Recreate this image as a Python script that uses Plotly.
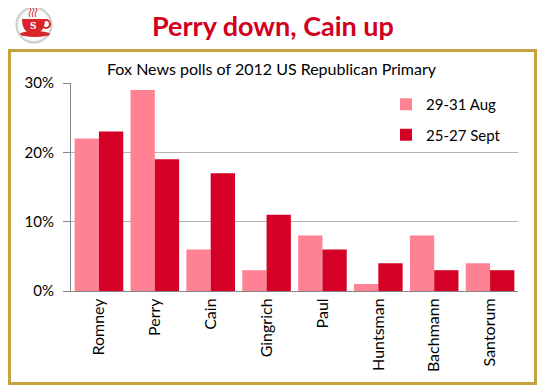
import plotly.graph_objects as go

candidates = ["Romney", "Perry", "Cain", "Gingrich", "Paul", "Huntsman", "Bachmann", "Santorum"]
aug_values = [0.22, 0.29, 0.06, 0.03, 0.08, 0.01, 0.08, 0.04]
sept_values = [0.23, 0.19, 0.17, 0.11, 0.06, 0.04, 0.03, 0.03]
series_names = ["29-31 Aug", "25-27 Sept"]
y_ticks = [0, 0.1, 0.2, 0.3]
y_tick_labels = ["0%", "10%", "20%", "30%"]

OFF = 8  # page body margin offset
W, H = 546 - OFF, 391 - OFF
# plot area in reference (window) pixels
L, R, T, B = 71, 518, 83, 291


def px(x):
    return (x - L) / (R - L)


def py(y):
    return (B - y) / (B - T)


FONT = "Lato, 'Open Sans', sans-serif"
PINK = "#FF8294"
RED = "#D50025"
CUP = "#D9262B"

fig = go.Figure()
fig.add_trace(go.Bar(x=candidates, y=aug_values, name=series_names[0],
                     marker=dict(color=PINK, line=dict(width=0)),
                     legendgroup="a"))
fig.add_trace(go.Bar(x=candidates, y=sept_values, name=series_names[1],
                     marker=dict(color=RED, line=dict(width=0)),
                     legendgroup="b"))


def P(x, y):
    return f"{px(x):.5f},{py(y):.5f}"


shapes = []
# outer golden border
shapes.append(dict(type="rect", xref="paper", yref="paper",
                   x0=px(9.5), x1=px(535.5), y0=py(383.5), y1=py(50.5),
                   line=dict(color="#C3A23F", width=3), layer="below"))
# logo
cx, cy = 34, 25
shapes.append(dict(type="circle", xref="paper", yref="paper",
                   x0=px(cx - 18), x1=px(cx + 18), y0=py(cy + 18), y1=py(cy - 18),
                   fillcolor="#DADADA", line=dict(color="#C4C4C4", width=1)))
shapes.append(dict(type="circle", xref="paper", yref="paper",
                   x0=px(cx - 16), x1=px(cx + 16), y0=py(cy + 16), y1=py(cy - 16),
                   fillcolor="#FBFBFB", line=dict(width=0)))
# saucer
shapes.append(dict(type="circle", xref="paper", yref="paper",
                   x0=px(20), x1=px(50), y0=py(37), y1=py(31),
                   fillcolor=CUP, line=dict(width=0)))
# cup bowl
bowl = (f"M {P(22,19)} L {P(45,19)} Q {P(45,33)} {P(33.5,34)} "
        f"Q {P(22,33)} {P(22,19)} Z")
shapes.append(dict(type="path", xref="paper", yref="paper", path=bowl,
                   fillcolor=CUP, line=dict(width=0)))
# handle
shapes.append(dict(type="circle", xref="paper", yref="paper",
                   x0=px(42), x1=px(50), y0=py(28), y1=py(20),
                   fillcolor="rgba(0,0,0,0)", line=dict(color=CUP, width=2)))
# steam
for sx in (30, 33, 36):
    shapes.append(dict(type="path", xref="paper", yref="paper",
                       path=f"M {P(sx,17)} Q {P(sx-2,14)} {P(sx,12)} Q {P(sx+2,10)} {P(sx,8)}",
                       line=dict(color=CUP, width=1)))

annotations = [
    dict(text="<b>Perry down, Cain up</b>", xref="paper", yref="paper",
         x=px(272.5), y=py(25), xanchor="center", yanchor="middle", showarrow=False,
         font=dict(family=FONT, size=27, color="#D2001E")),
    dict(text="Fox News polls of 2012 US Republican Primary", xref="paper", yref="paper",
         x=px(272), y=py(68), xanchor="center", yanchor="middle", showarrow=False,
         font=dict(family=FONT, size=16, color="#000000")),
    dict(text="<b>S</b>", xref="paper", yref="paper", x=px(33.5), y=py(26),
         xanchor="center", yanchor="middle", showarrow=False,
         font=dict(family="DejaVu Serif", size=9, color="white")),
]

fig.update_layout(
    width=W, height=H,
    margin=dict(l=L - OFF, r=W - (R - OFF), t=T - OFF, b=H - (B - OFF), pad=0),
    paper_bgcolor="white", plot_bgcolor="white",
    barmode="group", bargap=0.13, bargroupgap=0,
    font=dict(family=FONT, size=15, color="#000000"),
    showlegend=True,
    legend=dict(x=px(386), y=py(88), xanchor="left", yanchor="top",
                bgcolor="rgba(0,0,0,0)", font=dict(family=FONT, size=15),
                traceorder="grouped", tracegroupgap=8, itemwidth=30),
    shapes=shapes,
    annotations=annotations,
    xaxis=dict(showgrid=False, tickangle=-90, showline=True, linecolor="#868686",
               linewidth=1, ticks="", tickfont=dict(family=FONT, size=16, color="#000000"),
               ticklabelstandoff=0),
    yaxis=dict(range=[0, 0.3], tickvals=y_ticks, ticktext=y_tick_labels,
               showgrid=True, gridcolor="#B3B3B3", gridwidth=1,
               showline=True, linecolor="#868686", linewidth=1,
               ticks="outside", ticklen=7, tickcolor="#868686",
               zeroline=False, ticklabelstandoff=6,
               tickfont=dict(family=FONT, size=15, color="#000000")),
)

fig.write_html("out.html")
